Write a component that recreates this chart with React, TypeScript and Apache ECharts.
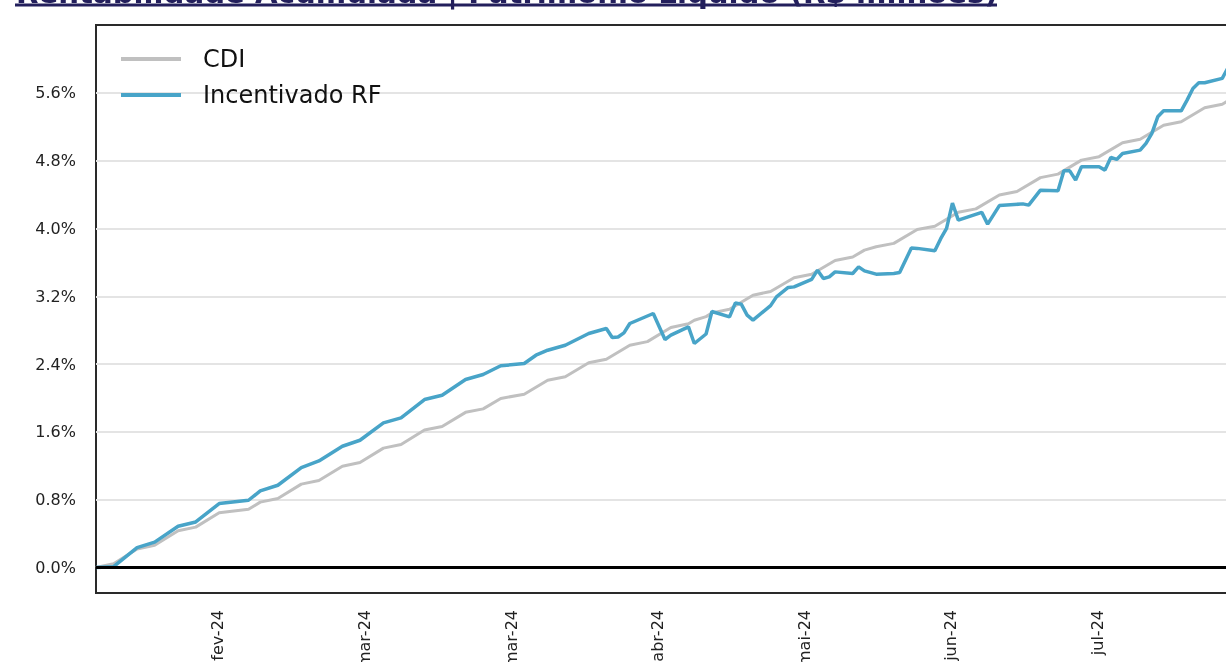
import React, { useEffect, useRef } from 'react';
import * as echarts from 'echarts';

const titleText = 'Rentabilidade Acumulada | Patrimônio Líquido (R$ milhões)';

const cdiDates = [
  '2024-01-19', '2024-01-22', '2024-01-26', '2024-01-29', '2024-02-02', '2024-02-05', '2024-02-09',
  '2024-02-14', '2024-02-16', '2024-02-19', '2024-02-23', '2024-02-26', '2024-03-01', '2024-03-04',
  '2024-03-08', '2024-03-11', '2024-03-15', '2024-03-18', '2024-03-22', '2024-03-25', '2024-03-28',
  '2024-04-01', '2024-04-05', '2024-04-08', '2024-04-12', '2024-04-15', '2024-04-19', '2024-04-22',
  '2024-04-26', '2024-04-29', '2024-04-30', '2024-05-02', '2024-05-03', '2024-05-06', '2024-05-10',
  '2024-05-13', '2024-05-17', '2024-05-20', '2024-05-24', '2024-05-27', '2024-05-29', '2024-05-31',
  '2024-06-03', '2024-06-07', '2024-06-10', '2024-06-14', '2024-06-17', '2024-06-21', '2024-06-24',
  '2024-06-28', '2024-07-01', '2024-07-05', '2024-07-08', '2024-07-12', '2024-07-15', '2024-07-19',
  '2024-07-22', '2024-07-26', '2024-07-29', '2024-07-30',
];
const cdiValues = [
  0, 0.044, 0.219, 0.263, 0.435, 0.477, 0.646,
  0.688, 0.772, 0.815, 0.984, 1.026, 1.196, 1.239,
  1.409, 1.451, 1.622, 1.664, 1.831, 1.872, 1.995,
  2.045, 2.21, 2.251, 2.416, 2.457, 2.622, 2.665,
  2.832, 2.875, 2.917, 2.96, 3.004, 3.047, 3.213,
  3.256, 3.418, 3.459, 3.622, 3.663, 3.744, 3.784,
  3.824, 3.987, 4.027, 4.191, 4.231, 4.395, 4.436,
  4.6, 4.641, 4.806, 4.847, 5.012, 5.053, 5.218,
  5.259, 5.424, 5.466, 5.507,
];

const rfDates = [
  '2024-01-19', '2024-01-22', '2024-01-26', '2024-01-29', '2024-02-02', '2024-02-05', '2024-02-09',
  '2024-02-14', '2024-02-16', '2024-02-19', '2024-02-23', '2024-02-26', '2024-03-01', '2024-03-04',
  '2024-03-08', '2024-03-11', '2024-03-15', '2024-03-18', '2024-03-22', '2024-03-25', '2024-03-28',
  '2024-04-01', '2024-04-03', '2024-04-05', '2024-04-08', '2024-04-12', '2024-04-15', '2024-04-16',
  '2024-04-17', '2024-04-18', '2024-04-19', '2024-04-23', '2024-04-25', '2024-04-26', '2024-04-29',
  '2024-04-30', '2024-05-02', '2024-05-03', '2024-05-06', '2024-05-07', '2024-05-08', '2024-05-09',
  '2024-05-10', '2024-05-13', '2024-05-14', '2024-05-16', '2024-05-17', '2024-05-20', '2024-05-21',
  '2024-05-22', '2024-05-23', '2024-05-24', '2024-05-27', '2024-05-28', '2024-05-29', '2024-05-31',
  '2024-06-03', '2024-06-04', '2024-06-06', '2024-06-07', '2024-06-10', '2024-06-11', '2024-06-12',
  '2024-06-13', '2024-06-14', '2024-06-18', '2024-06-19', '2024-06-21', '2024-06-25', '2024-06-26',
  '2024-06-28', '2024-07-01', '2024-07-02', '2024-07-03', '2024-07-04', '2024-07-05', '2024-07-08',
  '2024-07-09', '2024-07-10', '2024-07-11', '2024-07-12', '2024-07-15', '2024-07-16', '2024-07-17',
  '2024-07-18', '2024-07-19', '2024-07-22', '2024-07-23', '2024-07-24', '2024-07-25', '2024-07-26',
  '2024-07-29', '2024-07-30',
];
const rfValues = [
  0, 0.01, 0.236, 0.3, 0.487, 0.538, 0.755,
  0.794, 0.904, 0.971, 1.18, 1.258, 1.431, 1.502,
  1.706, 1.765, 1.982, 2.033, 2.218, 2.277, 2.38,
  2.407, 2.505, 2.564, 2.623, 2.761, 2.82, 2.714,
  2.72, 2.768, 2.879, 2.997, 2.69, 2.741, 2.84,
  2.643, 2.755, 3.02, 2.957, 3.122, 3.107, 2.977,
  2.918, 3.09, 3.193, 3.304, 3.311, 3.4, 3.508,
  3.41, 3.429, 3.488, 3.469, 3.547, 3.5, 3.461,
  3.47, 3.48, 3.77, 3.765, 3.736, 3.88, 4.0,
  4.3, 4.098, 4.19, 4.051, 4.27, 4.29, 4.275,
  4.452, 4.444, 4.68, 4.68, 4.57, 4.727, 4.727,
  4.688, 4.838, 4.814, 4.885, 4.924, 5.003, 5.121,
  5.317, 5.388, 5.388, 5.514, 5.652, 5.718, 5.718,
  5.77, 5.9,
];

const yTicks = [0, 0.8, 1.6, 2.4, 3.2, 4.0, 4.8, 5.6];
const xTickDates = ['2024-02-08', '2024-03-04', '2024-03-29', '2024-04-23', '2024-05-18', '2024-06-12', '2024-07-07'];
const xTickLabels = ['fev-24', 'mar-24', 'mar-24', 'abr-24', 'mai-24', 'jun-24', 'jul-24'];
const xStart = '2024-01-19';
const xEnd = '2024-07-31';

const FONT = '"DejaVu Sans", Verdana, sans-serif';

export default function App() {
  const ref = useRef<HTMLDivElement>(null);
  useEffect(() => {
    if (!ref.current) return;
    const chart = echarts.init(ref.current, null, { renderer: 'svg' });
    const ts = (d: string, h = '00') => new Date(d + 'T' + h + ':00:00Z').getTime();
    const tickTs = xTickDates.map((d) => ts(d, '18'));
    const option: any = {
      animation: false,
      textStyle: { fontFamily: FONT },
      grid: {
        left: 96, top: 25, bottom: 69, right: -8,
        outerBoundsMode: 'none',
        containLabel: false,
        show: true, borderColor: '#2a2a2a', borderWidth: 2,
      },
      xAxis: {
        type: 'value',
        min: ts(xStart),
        max: ts(xEnd),
        axisLine: { show: false },
        axisTick: { show: false, customValues: tickTs },
        splitLine: { show: false },
        axisLabel: {
          customValues: tickTs,
          rotate: 90,
          margin: 17,
          fontSize: 16,
          fontFamily: FONT,
          color: '#222',
          hideOverlap: false,
          formatter: (v: number) => {
            const i = tickTs.indexOf(v);
            return i >= 0 ? xTickLabels[i] : '';
          },
        },
      },
      yAxis: {
        type: 'value',
        min: -0.3,
        max: 6.4,
        axisLine: { show: false },
        axisTick: { show: false, customValues: yTicks },
        axisLabel: {
          customValues: yTicks,
          margin: 20,
          fontSize: 16,
          fontFamily: FONT,
          color: '#222',
          formatter: (v: number) => v.toFixed(1) + '%',
        },
        splitLine: { show: true, lineStyle: { color: '#e4e4e4', width: 2 } },
      },
      legend: {
        data: ['CDI', 'Incentivado RF'],
        orient: 'vertical',
        left: 121,
        top: 47,
        padding: 0,
        icon: 'rect',
        itemWidth: 60,
        itemHeight: 4,
        itemGap: 12,
        textStyle: { fontSize: 24, lineHeight: 24, color: '#111', fontFamily: FONT, padding: [0, 0, 0, 17] },
      },
      graphic: [
        {
          type: 'text',
          x: 16,
          y: 7,
          style: {
            text: titleText,
            fontSize: 29.2,
            fontWeight: 'bold',
            fontFamily: FONT,
            fill: '#231f5c',
            verticalAlign: 'bottom',
          },
        },
        {
          type: 'line',
          shape: { x1: 15, y1: 5, x2: 997, y2: 5 },
          style: { stroke: '#231f5c', lineWidth: 3 },
        },
      ],
      series: [
        {
          name: 'CDI',
          type: 'line',
          data: cdiDates.map((d, i) => [ts(d), cdiValues[i]]),
          showSymbol: false,
          symbol: 'none',
          lineStyle: { color: '#c0c0c0', width: 3 },
          itemStyle: { color: '#c0c0c0' },
          z: 3,
        },
        {
          name: 'Incentivado RF',
          type: 'line',
          data: rfDates.map((d, i) => [ts(d), rfValues[i]]),
          showSymbol: false,
          symbol: 'none',
          lineStyle: { color: '#48a4c8', width: 3.5 },
          itemStyle: { color: '#48a4c8' },
          z: 4,
          markLine: {
            silent: true,
            symbol: 'none',
            label: { show: false },
            lineStyle: { color: '#000', width: 3, type: 'solid' },
            data: [{ yAxis: 0 }],
          },
        },
      ],
    };
    chart.setOption(option);
    return () => chart.dispose();
  }, []);
  return <div ref={ref} style={{ position: 'fixed', left: 0, top: 0, width: 1226, height: 662 }} />;
}
